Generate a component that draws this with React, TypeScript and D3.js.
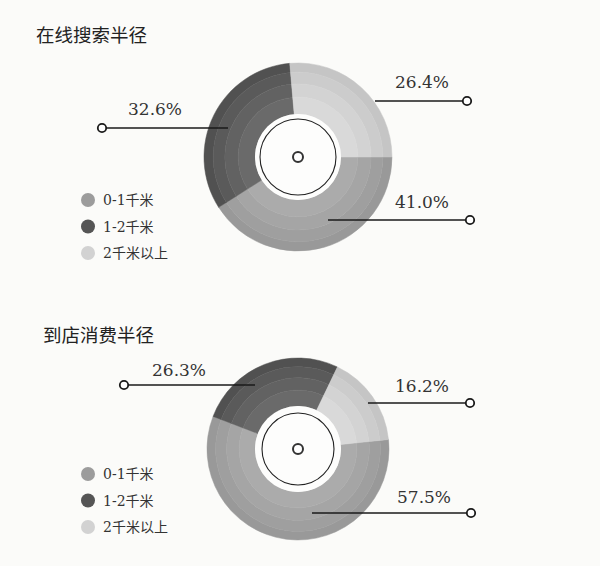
import { FC, useRef, useEffect } from 'react';
import * as d3 from 'd3';

// data
const categories = ['0-1千米', '1-2千米', '2千米以上'];
const onlineValues = [41.0, 32.6, 26.4];
const storeValues = [57.5, 26.3, 16.2];
const chartTitles = ['在线搜索半径', '到店消费半径'];

// shades per category, outer band -> inner band
const bandColors = [
  ['#999999', '#9f9f9f', '#a5a5a5', '#ababab'],
  ['#515151', '#5a5a5a', '#626262', '#6a6a6a'],
  ['#c5c5c5', '#cccccc', '#d3d3d3', '#d9d9d9'],
];
const legendColors = ['#9c9c9c', '#555555', '#d2d2d2'];
const bandStops = [1, 0.82, 0.59, 0.33, 0];

interface LabelPos { x0: number; y: number; x1: number; tx: number; ty: number; }
interface ChartLayout {
  cx: number; cy: number; outer: number; inner: number; ring: number;
  start: number; titleX: number; titleY: number; legendY: number;
  labels: LabelPos[];
}

const layouts: ChartLayout[] = [
  {
    cx: 298, cy: 157, outer: 94, inner: 43, ring: 38, start: 90,
    titleX: 36, titleY: 42, legendY: 200,
    labels: [
      { x0: 328, y: 220, x1: 470, tx: 395, ty: 208 },
      { x0: 228, y: 128, x1: 102, tx: 128, ty: 115 },
      { x0: 375, y: 101, x1: 467, tx: 395, ty: 88 },
    ],
  },
  {
    cx: 298, cy: 449, outer: 91, inner: 43, ring: 36, start: 84,
    titleX: 43, titleY: 342, legendY: 474,
    labels: [
      { x0: 312, y: 513, x1: 471, tx: 397, ty: 503 },
      { x0: 255, y: 385, x1: 124, tx: 152, ty: 376 },
      { x0: 368, y: 403, x1: 470, tx: 395, ty: 392 },
    ],
  },
];

const numFont = '"DejaVu Serif", "Liberation Serif", serif';

const App: FC = () => {
  const svgRef = useRef<SVGSVGElement>(null);

  useEffect(() => {
    const svg = d3.select(svgRef.current);
    svg.selectAll('*').remove();

    svg.append('rect').attr('width', 600).attr('height', 566).attr('fill', '#fbfbf9');

    [onlineValues, storeValues].forEach((values, ci) => {
      const L = layouts[ci];
      const g = svg.append('g');

      g.append('text')
        .attr('x', L.titleX).attr('y', L.titleY)
        .attr('font-family', '"Noto Sans CJK SC", sans-serif')
        .attr('font-size', 18.5)
        .attr('fill', '#222')
        .text(chartTitles[ci]);

      const start = (L.start * Math.PI) / 180;
      const pie = d3.pie<number>().sort(null).value(d => d)
        .startAngle(start).endAngle(start + 2 * Math.PI);
      const arcs = pie(values);
      const r = d3.scaleLinear().domain([0, 1]).range([L.inner, L.outer]);

      const donut = g.append('g').attr('transform', `translate(${L.cx},${L.cy})`);
      arcs.forEach((a, i) => {
        for (let b = 0; b < 4; b++) {
          const arc = d3.arc<d3.PieArcDatum<number>>()
            .innerRadius(r(bandStops[b + 1]))
            .outerRadius(r(bandStops[b]));
          donut.append('path')
            .attr('d', arc(a) as string)
            .attr('fill', bandColors[i][b])
            .attr('stroke', bandColors[i][b])
            .attr('stroke-width', 0.5);
        }
      });

      donut.append('circle').attr('r', L.inner).attr('fill', '#fdfdfc');
      donut.append('circle').attr('r', L.ring).attr('fill', 'none')
        .attr('stroke', '#222').attr('stroke-width', 1.1);
      donut.append('circle').attr('r', 5).attr('fill', '#fff')
        .attr('stroke', '#333').attr('stroke-width', 2);

      // leader lines and labels
      values.forEach((v, i) => {
        const p = L.labels[i];
        g.append('line')
          .attr('x1', p.x0).attr('y1', p.y).attr('x2', p.x1).attr('y2', p.y)
          .attr('stroke', '#1a1a1a').attr('stroke-width', 1.6);
        g.append('circle')
          .attr('cx', p.x1).attr('cy', p.y).attr('r', 4.2)
          .attr('fill', '#fff').attr('stroke', '#1a1a1a').attr('stroke-width', 1.8);
        g.append('text')
          .attr('x', p.tx).attr('y', p.ty)
          .attr('font-family', numFont)
          .attr('font-size', 17)
          .attr('fill', '#333')
          .text(`${v.toFixed(1)}%`);
      });

      // legend
      const ly = d3.scalePoint<string>().domain(categories).range([L.legendY, L.legendY + 53]);
      categories.forEach((c, i) => {
        g.append('circle')
          .attr('cx', 88).attr('cy', ly(c) as number).attr('r', 7)
          .attr('fill', legendColors[i]);
        g.append('text')
          .attr('x', 103).attr('y', (ly(c) as number) + 5)
          .attr('font-family', `${numFont}, "Noto Sans CJK SC"`)
          .attr('font-size', 14)
          .attr('fill', '#333')
          .text(c);
      });
    });
  }, []);

  return (
    <svg ref={svgRef} width={600} height={566}
      style={{ position: 'absolute', left: 0, top: 0, display: 'block' }} />
  );
};

export default App;
